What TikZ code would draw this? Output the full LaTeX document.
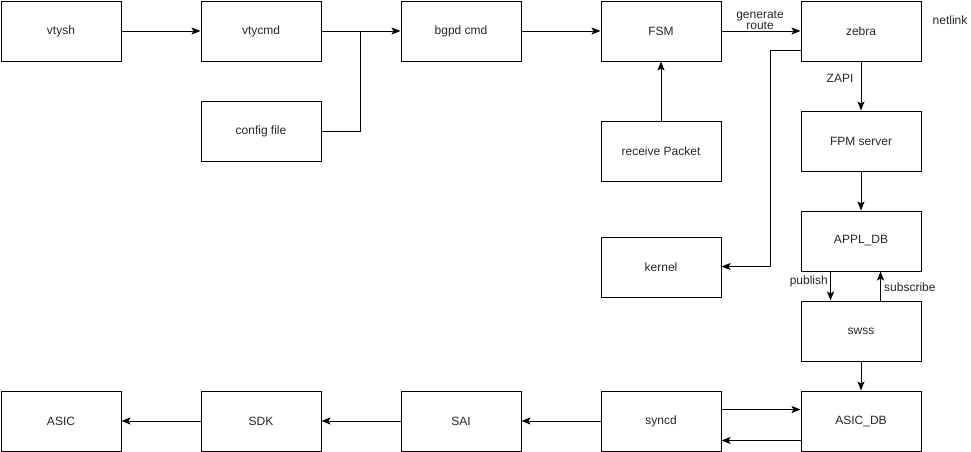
\documentclass[tikz,border=0pt]{standalone}
\usepackage{fontspec}
\setmainfont{Liberation Sans}
\usetikzlibrary{arrows.meta}
\begin{document}
\begin{tikzpicture}[x=1pt,y=-1pt,
  blk/.style={draw=black,line width=1pt,minimum width=120pt,minimum height=60pt,
    inner sep=0pt,anchor=north west,font=\fontsize{12}{14}\selectfont,text=black!85},
  lbl/.style={font=\fontsize{12}{13}\selectfont,text=black!85,inner sep=1pt,align=center},
  arr/.style={line width=1pt,-{Stealth[length=9pt,width=7pt,inset=2pt]}},
  ln/.style={line width=1pt}]
\useasboundingbox (0,0) rectangle (971,451);
% top row
\node[blk] (vtysh) at (0.5,0.5) {vtysh};
\node[blk] (vtycmd) at (200.5,0.5) {vtycmd};
\node[blk] (bgpd) at (400.5,0.5) {bgpd cmd};
\node[blk] (fsm) at (600.5,0.5) {FSM};
\node[blk] (zebra) at (800.5,0.5) {zebra};
\node[blk] (cfg) at (200.5,100.5) {config file};
\node[blk] (rcv) at (600.5,120.5) {receive Packet};
\node[blk] (kernel) at (600.5,236.5) {kernel};
% right column
\node[blk] (fpm) at (800.5,110.5) {FPM server};
\node[blk] (appl) at (800.5,210.5) {APPL\_DB};
\node[blk] (swss) at (800.5,300.5) {swss};
\node[blk] (asicdb) at (800.5,390.5) {ASIC\_DB};
% bottom row
\node[blk] (syncd) at (600.5,390.5) {syncd};
\node[blk] (sai) at (400.5,390.5) {SAI};
\node[blk] (sdk) at (200.5,390.5) {SDK};
\node[blk] (asic) at (0.5,390.5) {ASIC};

% command path
\coordinate (j) at (360.5,30.5);
\draw[arr] (vtysh) -- (vtycmd);
\draw[arr] (vtycmd) -- (bgpd);
\draw[ln] (cfg.east) -| (j);
\draw[arr] (bgpd) -- (fsm);
\draw[arr] (rcv) -- (fsm);
\draw[arr] (fsm) -- (zebra);
\node[lbl] (gen) at (760,20) {generate\\[-2pt]route};
\node[lbl] (netlink) at (950,20) {netlink};
% zebra to kernel
\coordinate (kz) at (770.5,50.5);
\draw[arr] (zebra.west |- kz) -- (kz) |- (kernel.east |- 0,266.5);
% zebra down to the databases
\draw[arr] (zebra) -- (fpm);
\node[lbl] (zapi) at (840,78) {ZAPI};
\draw[arr] (fpm) -- (appl);
\draw[arr] (appl.south -| 830.5,0) -- (swss.north -| 830.5,0);
\node[lbl,anchor=east] (pub) at (829,281) {publish};
\draw[arr] (swss.north -| 880.5,0) -- (appl.south -| 880.5,0);
\node[lbl,anchor=west] (sub) at (883,287) {subscribe};
\draw[arr] (swss) -- (asicdb);
\draw[arr] (syncd.east |- 0,409.5) -- (asicdb.west |- 0,409.5);
\draw[arr] (asicdb.west |- 0,440.5) -- (syncd.east |- 0,440.5);
% bottom row towards the hardware
\draw[arr] (syncd) -- (sai);
\draw[arr] (sai) -- (sdk);
\draw[arr] (sdk) -- (asic);
\end{tikzpicture}
\end{document}
